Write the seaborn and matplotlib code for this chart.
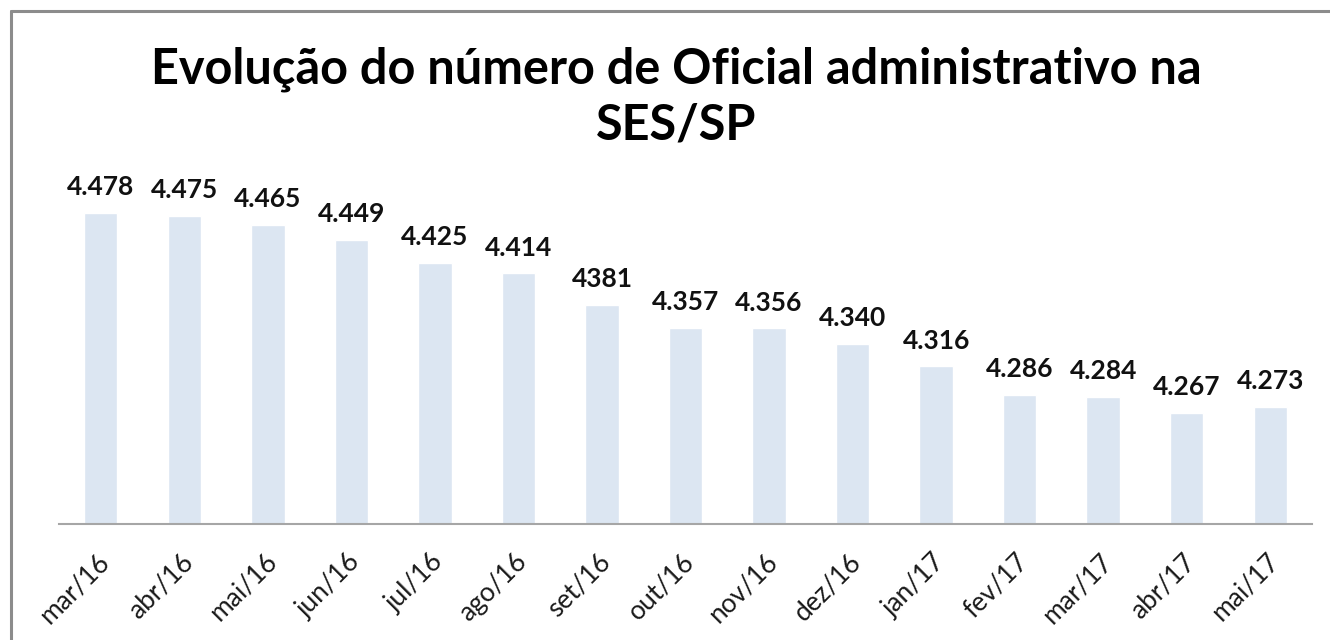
import matplotlib
matplotlib.use("Agg")
import matplotlib.pyplot as plt
import matplotlib.transforms as mtransforms
import seaborn as sns
import pandas as pd
from matplotlib.lines import Line2D

months = ["mar/16", "abr/16", "mai/16", "jun/16", "jul/16", "ago/16", "set/16",
          "out/16", "nov/16", "dez/16", "jan/17", "fev/17", "mar/17", "abr/17", "mai/17"]
values = [4478, 4475, 4465, 4449, 4425, 4414, 4381, 4357, 4356, 4340, 4316, 4286, 4284, 4267, 4273]
value_labels = ["4.478", "4.475", "4.465", "4.449", "4.425", "4.414", "4381", "4.357",
                "4.356", "4.340", "4.316", "4.286", "4.284", "4.267", "4.273"]
title = "Evolução do número de Oficial administrativo na\nSES/SP"

sns.set_theme(style="white")
plt.rcParams['font.family'] = ['Lato', 'DejaVu Sans']

W, H = 1330, 640
fig = plt.figure(figsize=(W / 100, H / 100), dpi=100)
ax = fig.add_axes([59 / W, (H - 524) / H, (1312 - 59) / W, (524 - 170) / H])

df = pd.DataFrame({"mes": months, "valor": values})
sns.barplot(data=df, x="mes", y="valor", color="#DCE6F2", saturation=1, width=0.4, ax=ax)

ax.set_ylim(4150, 4523)
ax.set_xlim(-0.5, len(months) - 0.5)
ax.set_xlabel("")
ax.set_ylabel("")
ax.set_yticks([])
for s in ["top", "right", "left"]:
    ax.spines[s].set_visible(False)
ax.spines["bottom"].set_color("#A6A6A6")
ax.spines["bottom"].set_linewidth(1.5)
ax.tick_params(axis="x", length=0, pad=18)
shift = mtransforms.ScaledTranslation(-4 / 100, 0, fig.dpi_scale_trans)
for lbl in ax.get_xticklabels():
    lbl.set_rotation(45)
    lbl.set_ha("right")
    lbl.set_rotation_mode("anchor")
    lbl.set_fontsize(19)
    lbl.set_color("#1a1a1a")
    lbl.set_transform(lbl.get_transform() + shift)

for i, (v, lab) in enumerate(zip(values, value_labels)):
    ax.annotate(lab, (i, v), xytext=(0, 10), textcoords="offset points",
                ha="center", va="bottom", fontsize=19, fontweight="bold", color="#111111")

fig.text(676 / W, 1 - 97 / H, title, ha="center", va="center", fontsize=35,
         fontweight="bold", color="#000000", linespacing=1.3)

fig.add_artist(Line2D([11 / W, 1.0], [1 - 11 / H, 1 - 11 / H], color="#8C8C8C", lw=2.2,
                      transform=fig.transFigure))
fig.add_artist(Line2D([11 / W, 11 / W], [0, 1 - 11 / H], color="#8C8C8C", lw=2.2,
                      transform=fig.transFigure))

fig.savefig("out.png", dpi=100)
